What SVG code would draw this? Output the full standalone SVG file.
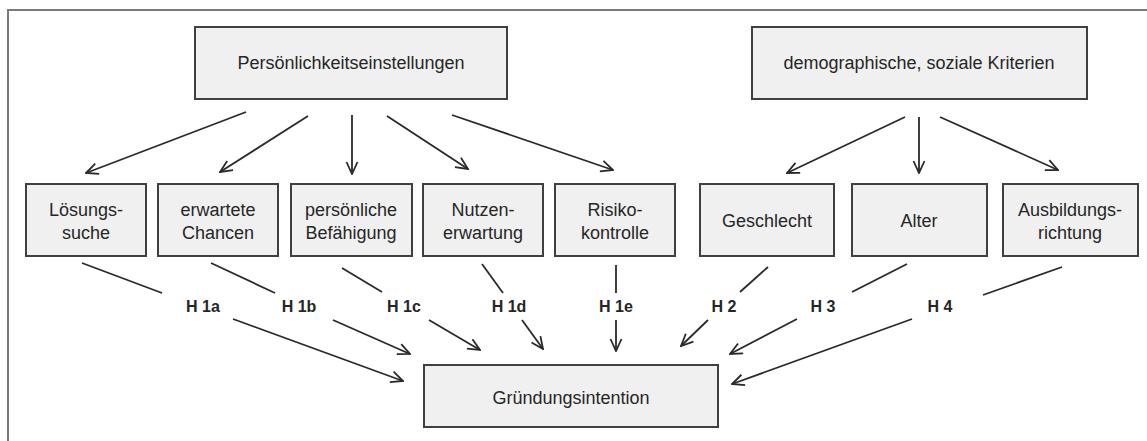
<svg xmlns="http://www.w3.org/2000/svg" width="1147" height="441" viewBox="0 0 1147 441">
<defs>
<style>
.box{fill:#f0f0f0;stroke:#404040;stroke-width:2}
.t{font-family:"Liberation Sans",Arial,sans-serif;font-size:18px;fill:#262626;text-anchor:middle}
.h{font-family:"Liberation Sans",Arial,sans-serif;font-size:16px;font-weight:bold;fill:#262626;text-anchor:middle}
.c line{stroke:#2a2a2a;stroke-width:1.8;fill:none}
.a{marker-end:url(#arr)}
</style>
<marker id="arr" viewBox="0 0 14 14" refX="13" refY="7" markerWidth="14" markerHeight="14" markerUnits="userSpaceOnUse" orient="auto">
<path d="M1,1.5 L13,7 L1,12.5" fill="none" stroke="#2a2a2a" stroke-width="1.8"/>
</marker>
</defs>
<rect width="1147" height="441" fill="#fff"/>
<path d="M8,441 V10 H1147" fill="none" stroke="#7a7a7a" stroke-width="2"/>

<g id="persoenlichkeit"><rect class="box" x="195" y="27" width="312" height="72"/><text class="t" x="351" y="69">Persönlichkeitseinstellungen</text></g>
<g id="demographisch"><rect class="box" x="752" y="27" width="335" height="72"/><text class="t" x="919" y="69">demographische, soziale Kriterien</text></g>

<g id="loesungssuche"><rect class="box" x="26" y="184" width="120" height="72"/><text class="t" x="86" y="216">Lösungs-</text><text class="t" x="86" y="239">suche</text></g>
<g id="chancen"><rect class="box" x="158" y="184" width="120" height="72"/><text class="t" x="218" y="216">erwartete</text><text class="t" x="218" y="239">Chancen</text></g>
<g id="befaehigung"><rect class="box" x="291" y="184" width="121" height="72"/><text class="t" x="351" y="216">persönliche</text><text class="t" x="351" y="239">Befähigung</text></g>
<g id="nutzen"><rect class="box" x="423" y="184" width="120" height="72"/><text class="t" x="483" y="216">Nutzen-</text><text class="t" x="483" y="239">erwartung</text></g>
<g id="risiko"><rect class="box" x="555" y="184" width="120" height="72"/><text class="t" x="615" y="216">Risiko-</text><text class="t" x="615" y="239">kontrolle</text></g>
<g id="geschlecht"><rect class="box" x="700" y="184" width="134" height="72"/><text class="t" x="767" y="227">Geschlecht</text></g>
<g id="alter"><rect class="box" x="852" y="184" width="135" height="72"/><text class="t" x="919" y="227">Alter</text></g>
<g id="ausbildung"><rect class="box" x="1003" y="184" width="135" height="72"/><text class="t" x="1070" y="216">Ausbildungs-</text><text class="t" x="1070" y="239">richtung</text></g>

<g id="gruendung"><rect class="box" x="424" y="365" width="294" height="62"/><text class="t" x="571" y="404">Gründungsintention</text></g>

<g id="labels">
<text class="h" x="203" y="312">H 1a</text>
<text class="h" x="299" y="312">H 1b</text>
<text class="h" x="404" y="312">H 1c</text>
<text class="h" x="509" y="312">H 1d</text>
<text class="h" x="616" y="312">H 1e</text>
<text class="h" x="724" y="312">H 2</text>
<text class="h" x="823" y="312">H 3</text>
<text class="h" x="940" y="312">H 4</text>
</g>

<g id="connectors" class="c">
<line class="a" x1="246" y1="112" x2="86" y2="173"/>
<line class="a" x1="308" y1="116" x2="220" y2="172"/>
<line class="a" x1="352" y1="115" x2="352" y2="174"/>
<line class="a" x1="387" y1="116" x2="468" y2="169"/>
<line class="a" x1="452" y1="115" x2="613" y2="170"/>
<line class="a" x1="905" y1="117" x2="787" y2="173"/>
<line class="a" x1="919" y1="117" x2="919" y2="173"/>
<line class="a" x1="940" y1="117" x2="1058" y2="170"/>

<line x1="82" y1="263" x2="162" y2="293"/>
<line x1="211" y1="263" x2="275" y2="293"/>
<line x1="342" y1="268" x2="382" y2="292"/>
<line x1="482" y1="264" x2="503" y2="293"/>
<line x1="616" y1="265" x2="616" y2="293"/>
<line x1="768" y1="267" x2="740" y2="292"/>
<line x1="907" y1="264" x2="852" y2="292"/>
<line x1="1062" y1="267" x2="983" y2="295"/>

<line class="a" x1="233" y1="319" x2="403" y2="381"/>
<line class="a" x1="333" y1="320" x2="410" y2="354"/>
<line class="a" x1="429" y1="320" x2="480" y2="350"/>
<line class="a" x1="522" y1="320" x2="543" y2="349"/>
<line class="a" x1="616" y1="320" x2="616" y2="351"/>
<line class="a" x1="708" y1="320" x2="681" y2="346"/>
<line class="a" x1="797" y1="319" x2="730" y2="354"/>
<line class="a" x1="912" y1="319" x2="732" y2="384"/>
</g>
</svg>
